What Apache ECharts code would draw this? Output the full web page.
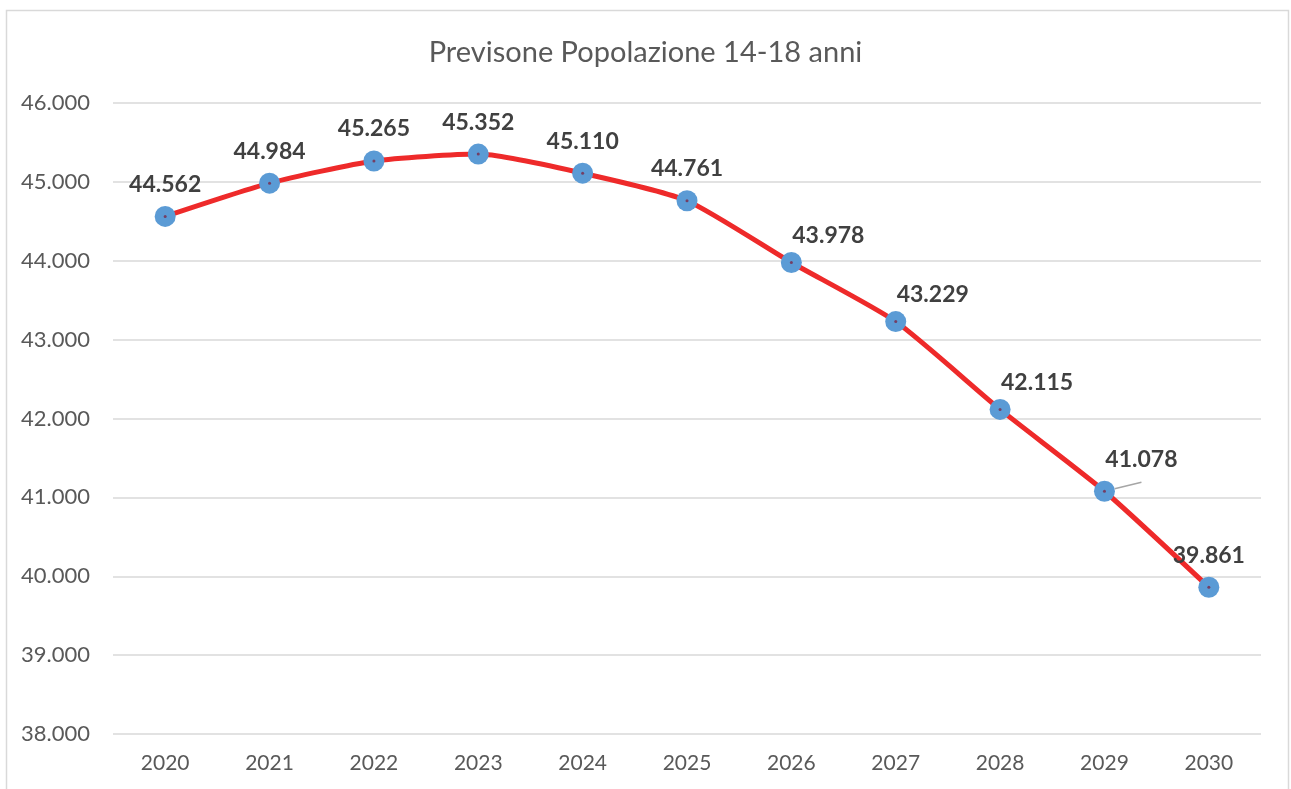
<!DOCTYPE html>
<html>
<head>
<meta charset="utf-8">
<script src="https://cdn.jsdelivr.net/npm/echarts@6/dist/echarts.min.js"></script>
<style>
  html, body { margin: 0; padding: 0; background: #fff; }
  #main { width: 1291px; height: 789px; }
</style>
</head>
<body>
<div id="main"></div>
<script>
var years = ['2020', '2021', '2022', '2023', '2024', '2025', '2026', '2027', '2028', '2029', '2030'];
var popolazione = [44562, 44984, 45265, 45352, 45110, 44761, 43978, 43229, 42115, 41078, 39861];

// formato italiano: 44.562
function fmt(v) {
    return String(v).replace(/\B(?=(\d{3})+(?!\d))/g, '.');
}

var fontFamily = 'Lato, "Open Sans", sans-serif';

var lineData = popolazione.map(function (v, i) {
    var item = { value: v };
    if (i >= 6 && i <= 8) {
        // etichette spostate a destra
        item.label = { offset: [37, 5] };
    }
    if (i === 9) {
        // etichetta spostata con linea guida
        item.label = { offset: [37, 0] };
        item.labelLine = { show: true };
    }
    return item;
});

var options = {
    backgroundColor: '#fff',
    animation: false,
    title: {
        text: 'Previsone Popolazione 14-18 anni',
        left: 'center',
        top: 33,
        textStyle: {
            color: '#595959',
            fontSize: 29,
            fontWeight: 'normal',
            fontFamily: fontFamily
        }
    },
    graphic: [{
        type: 'rect',
        shape: { x: 6.5, y: 10.5, width: 1282, height: 800 },
        style: { fill: 'none', stroke: '#d9d9d9', lineWidth: 1.5 },
        z: -1
    }],
    grid: {
        left: 113,
        right: 30,
        top: 103,
        bottom: 55
    },
    xAxis: {
        type: 'category',
        data: years,
        boundaryGap: true,
        axisLine: { show: false },
        axisTick: { show: false },
        axisLabel: {
            color: '#595959',
            fontSize: 21,
            fontFamily: fontFamily,
            margin: 19
        }
    },
    yAxis: {
        type: 'value',
        min: 38000,
        max: 46000,
        interval: 1000,
        axisLine: { show: false },
        axisTick: { show: false },
        splitLine: { lineStyle: { color: '#d9d9d9', width: 1.5 } },
        axisLabel: {
            color: '#595959',
            fontSize: 22,
            fontFamily: fontFamily,
            margin: 23,
            formatter: fmt
        }
    },
    series: [{
        name: 'Popolazione',
        type: 'line',
        data: lineData,
        smooth: 0.2,
        symbol: 'circle',
        symbolSize: 21,
        itemStyle: { color: '#5b9bd5' },
        lineStyle: { color: '#ee2a2a', width: 5 },
        label: {
            show: true,
            position: 'top',
            distance: 10,
            color: '#404040',
            fontSize: 23,
            fontWeight: 'bold',
            fontFamily: fontFamily,
            formatter: function (p) { return fmt(p.value); }
        },
        labelLine: {
            show: false,
            lineStyle: { color: '#a6a6a6', width: 1.5 }
        },
        z: 2
    }, {
        // punto centrale dei marcatori
        name: 'centro',
        type: 'scatter',
        data: popolazione,
        symbol: 'circle',
        symbolSize: 3,
        itemStyle: { color: '#7a2848' },
        silent: true,
        z: 3
    }]
};

var chart = echarts.init(document.getElementById('main'));
chart.setOption(options);
</script>
</body>
</html>
